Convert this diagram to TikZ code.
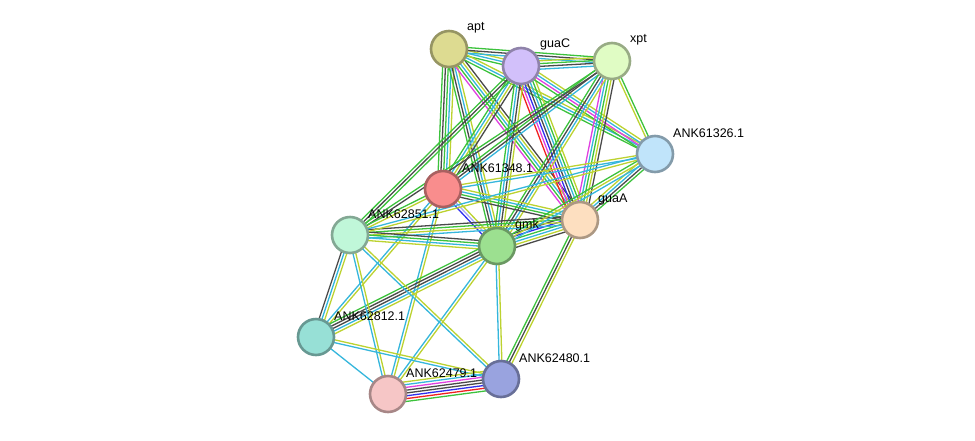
\documentclass[tikz,border=0pt]{standalone}
\usepackage{fontspec}
\setmainfont{Liberation Sans}
\usetikzlibrary{calc,backgrounds}
\definecolor{egreen}{HTML}{3CC23C}
\definecolor{ecyan}{HTML}{35B6DC}
\definecolor{eyel}{HTML}{BCD230}
\definecolor{edark}{HTML}{4A4A4A}
\definecolor{emag}{HTML}{E040E0}
\definecolor{ered}{HTML}{F02020}
\definecolor{eblue}{HTML}{2E2EEE}
\definecolor{elav}{HTML}{AAAAF5}
\newcount\ecnt
\newcommand{\edge}[3]{%
  \global\ecnt=0
  \foreach \c in {#3}{\global\advance\ecnt by 1}%
  \foreach \c [count=\i] in {#3}{%
    \pgfmathsetmacro\off{(\i-(\the\ecnt+1)/2)*2.8}%
    \draw[\c, edgeline] ($(#1)!\off pt!90:(#2)$) -- ($(#2)!\off pt!-90:(#1)$);
  }%
}
\tikzset{
  edgeline/.style={line width=1.3pt},
  prot/.style={circle, minimum size=36pt, inner sep=0pt, line width=2.6pt, draw=#1!68!black, fill=#1},
  lab/.style={anchor=west, font=\fontsize{12.5}{14}\selectfont, inner sep=0pt}
}
\begin{document}
\begin{tikzpicture}[x=1pt,y=-1pt]
\useasboundingbox (0,0) rectangle (975,440);
\definecolor{capt}{HTML}{DDDB91}
\definecolor{cguac}{HTML}{D2C0FA}
\definecolor{cxpt}{HTML}{E0FCC4}
\definecolor{c26}{HTML}{C0E4FA}
\definecolor{c48}{HTML}{F98D8D}
\definecolor{cguaa}{HTML}{FDDFC0}
\definecolor{c51}{HTML}{C0F7D9}
\definecolor{cgmk}{HTML}{9CE090}
\definecolor{c12}{HTML}{97E0D6}
\definecolor{c80}{HTML}{99A3DF}
\definecolor{c79}{HTML}{F6C6C6}
\node[prot=capt] (apt) at (449,49) {};
\node[prot=cguac] (guaC) at (521,66) {};
\node[prot=cxpt] (xpt) at (612,61) {};
\node[prot=c26] (n26) at (655,154) {};
\node[prot=c48] (n48) at (443,189) {};
\node[prot=cguaa] (guaA) at (580,220) {};
\node[prot=c51] (n51) at (350,235) {};
\node[prot=cgmk] (gmk) at (497,246) {};
\node[prot=c12] (n12) at (316,337) {};
\node[prot=c80] (n80) at (501,379) {};
\node[prot=c79] (n79) at (388,394) {};
\node[lab] (lapt) at (467,28) {apt};
\node[lab] (lguac) at (540,44) {guaC};
\node[lab] (lxpt) at (630,40) {xpt};
\node[lab] (l26) at (673,133) {ANK61326.1};
\node[lab] (l48) at (462,168) {ANK61348.1};
\node[lab] (lguaa) at (598,199) {guaA};
\node[lab] (l51) at (368,214) {ANK62851.1};
\node[lab] (lgmk) at (515,225) {gmk};
\node[lab] (l12) at (334,316) {ANK62812.1};
\node[lab] (l80) at (519,358) {ANK62480.1};
\node[lab] (l79) at (406,373) {ANK62479.1};
\begin{pgfonlayer}{background}
\edge{apt}{guaC}{egreen,ecyan,eyel}
\edge{apt}{xpt}{ecyan,edark,egreen}
\edge{guaC}{xpt}{ecyan,edark,egreen,eyel}
\edge{apt}{n48}{egreen,edark,egreen,ecyan,eyel}
\edge{apt}{gmk}{egreen,edark,ecyan,eyel}
\edge{apt}{guaA}{emag,egreen,ecyan,eyel,edark}
\edge{apt}{n26}{egreen,ecyan,eyel}
\edge{guaC}{n48}{egreen,ecyan,eyel,edark}
\edge{guaC}{guaA}{ered,emag,eblue,edark,ecyan,egreen,eyel}
\edge{guaC}{gmk}{egreen,ecyan,edark,eyel}
\edge{guaC}{n26}{egreen,emag,ecyan,eyel}
\edge{guaC}{n51}{egreen,edark,egreen}
\edge{xpt}{n48}{egreen,edark,ecyan}
\edge{xpt}{guaA}{emag,ecyan,egreen,eyel,edark}
\edge{xpt}{n26}{eyel,egreen}
\edge{xpt}{gmk}{egreen,edark,ecyan,eyel}
\edge{xpt}{n51}{egreen,edark}
\edge{n48}{n26}{ecyan,eyel}
\edge{n48}{guaA}{edark,egreen,ecyan,eyel}
\edge{n48}{gmk}{eblue,elav,eyel}
\edge{n48}{n51}{egreen,eyel}
\edge{n48}{n12}{ecyan,eyel}
\edge{n48}{n79}{ecyan,eyel}
\edge{guaA}{n26}{egreen,edark,ecyan,eyel}
\edge{guaA}{gmk}{edark,eblue,egreen,ecyan,eyel,edark}
\edge{guaA}{n51}{edark,egreen,eyel,ecyan}
\edge{guaA}{n80}{egreen,edark,eyel}
\edge{gmk}{n26}{ecyan,eyel,egreen}
\edge{gmk}{n51}{edark,egreen,ecyan,eyel}
\edge{gmk}{n12}{egreen,edark,edark,ecyan,eyel}
\edge{gmk}{n80}{ecyan,eyel}
\edge{gmk}{n79}{ecyan,eyel}
\edge{n51}{n26}{eyel,ecyan}
\edge{n51}{n12}{edark,ecyan,eyel}
\edge{n51}{n79}{ecyan,eyel}
\edge{n51}{n80}{ecyan,eyel}
\edge{n12}{n79}{ecyan}
\edge{n12}{n80}{ecyan,eyel}
\edge{n79}{n80}{egreen,ered,eblue,edark,edark,emag,ecyan,eyel}
\end{pgfonlayer}
\end{tikzpicture}
\end{document}
